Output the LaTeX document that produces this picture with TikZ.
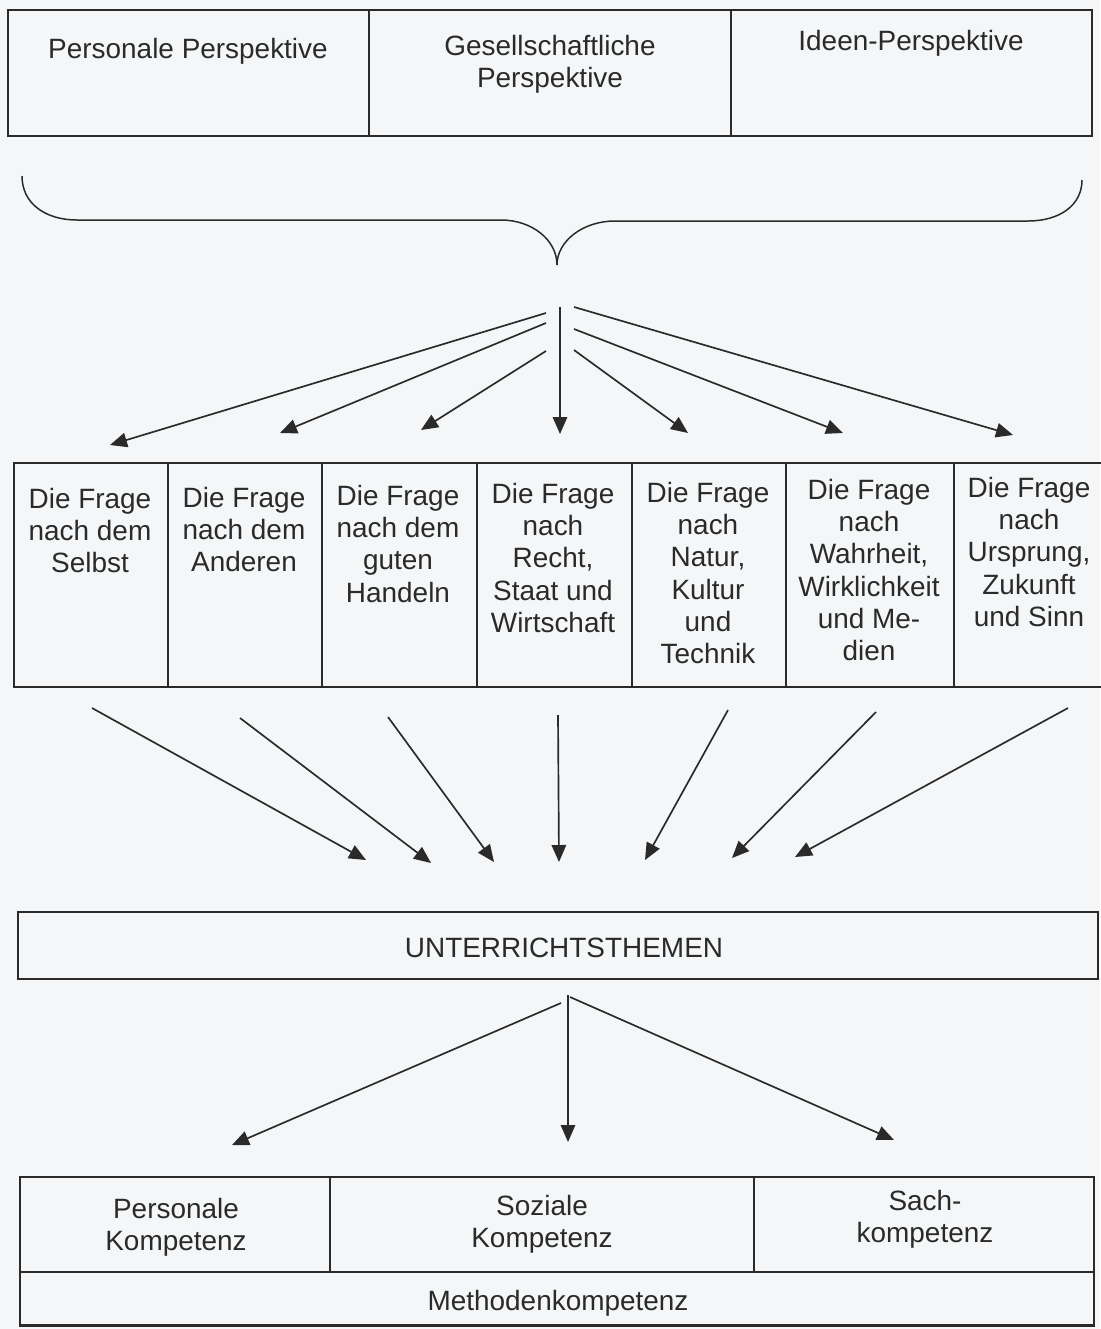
\documentclass[tikz,border=0pt]{standalone}
\usepackage{fontspec}
\setmainfont{Liberation Sans}
\usetikzlibrary{arrows.meta}
\definecolor{ink}{HTML}{2A2A2A}
\definecolor{paper}{HTML}{F4F6F7}
\begin{document}
\begin{tikzpicture}[x=0.02cm, y=-0.02cm,
  txt/.style={align=center, inner sep=0pt, text=ink, font=\fontsize{15.9}{18.3}\selectfont},
  cellbox/.style={draw=ink, line width=0.6pt, inner sep=0pt},
  frame/.style={draw=ink, line width=1.1pt},
  arr/.style={draw=ink, line width=0.95pt, -{Triangle[length=0.34cm,width=0.29cm]}},
  bracestyle/.style={draw=ink, line width=0.85pt}]
\fill[paper] (0,0) rectangle (1100,1329);
\useasboundingbox (0,0) rectangle (1100,1329);

% ---------- top perspectives ----------
\node[cellbox, minimum width=7.22cm, minimum height=2.52cm] (p1) at (188.5,73) {};
\node[cellbox, minimum width=7.24cm, minimum height=2.52cm] (p2) at (550,73) {};
\node[cellbox, minimum width=7.22cm, minimum height=2.52cm] (p3) at (911.5,73) {};
\draw[frame] (p1.north west) rectangle (p3.south east);
\node[txt, anchor=base] (tp1) at (188,58) {Personale Perspektive};
\node[txt, anchor=north] (tp2) at (550,35) {Gesellschaftliche\\Perspektive};
\node[txt, anchor=base] (tp3) at (911,50) {Ideen-Perspektive};

% ---------- brace ----------
\coordinate (bl) at (22,176);
\coordinate (btip) at (557,265);
\coordinate (br) at (1082,180);
\draw[bracestyle] (bl) .. controls (22,204) and (46,220) .. (77,220) -- (501,220)
  .. controls (532,220) and (557,240) .. (btip)
  .. controls (557,241) and (583,221) .. (615,221) -- (1028,221)
  .. controls (1060,221) and (1082,205) .. (br);

% ---------- questions row ----------
\node[cellbox, minimum width=3.08cm, minimum height=4.48cm] (c1) at (91,575) {};
\node[cellbox, minimum width=3.08cm, minimum height=4.48cm] (c2) at (245,575) {};
\node[cellbox, minimum width=3.10cm, minimum height=4.48cm] (c3) at (399.5,575) {};
\node[cellbox, minimum width=3.10cm, minimum height=4.48cm] (c4) at (554.5,575) {};
\node[cellbox, minimum width=3.08cm, minimum height=4.48cm] (c5) at (709,575) {};
\node[cellbox, minimum width=3.36cm, minimum height=4.48cm] (c6) at (870,575) {};
\node[cellbox, minimum width=3.00cm, minimum height=4.48cm] (c7) at (1029,575) {};
\draw[frame] (c1.north west) rectangle (c7.south east);

\node[txt, anchor=north] (q1) at (90,488) {Die Frage\\nach dem\\Selbst};
\node[txt, anchor=north] (q2) at (244,487) {Die Frage\\nach dem\\Anderen};
\node[txt, anchor=north] (q3) at (398,485) {Die Frage\\nach dem\\guten\\Handeln};
\node[txt, anchor=north] (q4) at (553,483) {Die Frage\\nach\\Recht,\\Staat und\\Wirtschaft};
\node[txt, anchor=north] (q5) at (708,482) {Die Frage\\nach\\Natur,\\Kultur\\und\\Technik};
\node[txt, anchor=north] (q6) at (869,479) {Die Frage\\nach\\Wahrheit,\\Wirklichkeit\\und Me-\\dien};
\node[txt, anchor=north] (q7) at (1029,477) {Die Frage\\nach\\Ursprung,\\Zukunft\\und Sinn};

% arrows from brace to questions
\coordinate (s1) at (546,313);
\coordinate (s2) at (546,323);
\coordinate (s3) at (546,351);
\coordinate (s4) at (560,307);
\coordinate (s5) at (574,350);
\coordinate (s6) at (574,329);
\coordinate (s7) at (574,307);
\coordinate (e1) at (110,445);
\coordinate (e2) at (280,433);
\coordinate (e3) at (421,430);
\coordinate (e4) at (560,434);
\coordinate (e5) at (688,433);
\coordinate (e6) at (843,433);
\coordinate (e7) at (1013,435);
\foreach \i in {1,...,7} { \draw[arr] (s\i) -- (e\i); }

% ---------- Unterrichtsthemen ----------
\node[frame, inner sep=0pt, minimum width=21.6cm, minimum height=1.34cm] (ut) at (558,945.5) {};
\node[txt, anchor=base] (utt) at (564,957) {UNTERRICHTSTHEMEN};

\coordinate (f1) at (92,708);
\coordinate (f2) at (240,718);
\coordinate (f3) at (388,717);
\coordinate (f4) at (558,715);
\coordinate (f5) at (728,710);
\coordinate (f6) at (876,712);
\coordinate (f7) at (1068,708);
\coordinate (g1) at (366,860);
\coordinate (g2) at (431,863);
\coordinate (g3) at (494,862);
\coordinate (g4) at (559,862);
\coordinate (g5) at (645,860);
\coordinate (g6) at (732,858);
\coordinate (g7) at (795,857);
\foreach \i in {1,...,7} { \draw[arr] (f\i) -- (g\i); }

% ---------- competences ----------
\coordinate (h1) at (561,1003);
\coordinate (h2) at (568,995);
\coordinate (h3) at (570,997);
\coordinate (k1) at (232,1145);
\coordinate (k2) at (568,1142);
\coordinate (k3) at (894,1140);
\foreach \i in {1,2,3} { \draw[arr] (h\i) -- (k\i); }

\node[cellbox, minimum width=6.2cm, minimum height=1.9cm] (k1box) at (175,1224.5) {};
\node[cellbox, minimum width=8.48cm, minimum height=1.9cm] (k2box) at (542,1224.5) {};
\node[cellbox, minimum width=6.8cm, minimum height=1.9cm] (k3box) at (924,1224.5) {};
\node[cellbox, minimum width=21.48cm, minimum height=1.06cm] (mbox) at (557,1298.5) {};
\draw[frame] (k1box.north west) rectangle (mbox.south east);

\node[txt, anchor=north] (kt1) at (176,1198) {Personale\\Kompetenz};
\node[txt, anchor=north] (kt2) at (542,1195) {Soziale\\Kompetenz};
\node[txt, anchor=north] (kt3) at (925,1190) {Sach-\\kompetenz};
\node[txt, anchor=base] (mt) at (558,1310) {Methodenkompetenz};
\end{tikzpicture}
\end{document}
